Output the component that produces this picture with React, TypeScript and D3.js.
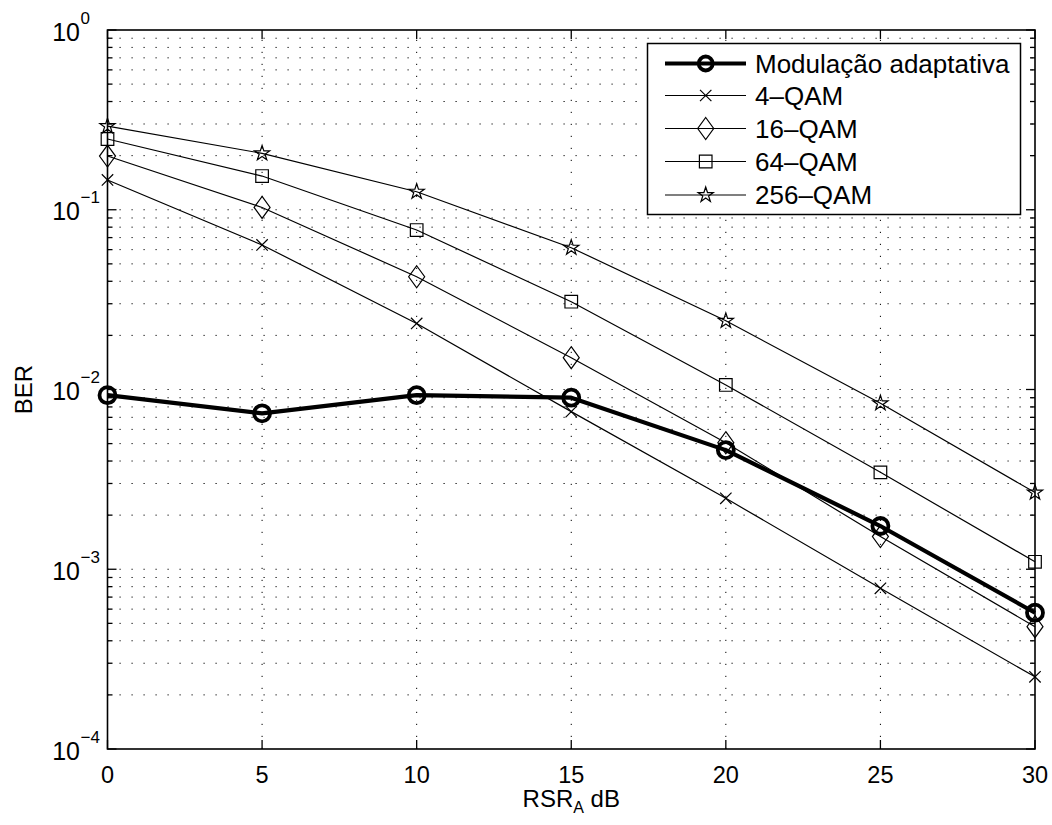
import React from "react";
import * as d3 from "d3";

const snr = [0, 5, 10, 15, 20, 25, 30];
const adaptive = [0.0093, 0.00737, 0.0093, 0.00901, 0.0046, 0.00174, 0.000573];
const qam4 = [0.1465, 0.0637, 0.0233, 0.00753, 0.00248, 0.000783, 0.000252];
const qam16 = [0.199, 0.103, 0.0424, 0.01503, 0.00506, 0.00152, 0.000479];
const qam64 = [0.2475, 0.154, 0.0771, 0.0308, 0.0106, 0.00346, 0.0011];
const qam256 = [0.292, 0.206, 0.126, 0.0615, 0.0241, 0.00838, 0.00267];

const xTicks = [0, 5, 10, 15, 20, 25, 30];
const yDecades = [0, -1, -2, -3, -4];
const seriesNames = ["Modulação adaptativa", "4–QAM", "16–QAM", "64–QAM", "256–QAM"];
const markerKinds = ["circle", "x", "diamond", "square", "star"];

const W = 1052, H = 825;
const L = 107.5, R = 1035, T = 30, B = 749;
const FONT = "'Liberation Sans', Arial, Helvetica, sans-serif";

function markerPath(kind: string, big: boolean): string {
  if (kind === "x") { const s = 5.7; return `M${-s},${-s}L${s},${s}M${-s},${s}L${s},${-s}`; }
  if (kind === "diamond") { const w = 8, h = 11; return `M0,${-h}L${w},0L0,${h}L${-w},0Z`; }
  if (kind === "square") { const s = 6.3; return `M${-s},${-s}H${s}V${s}H${-s}Z`; }
  if (kind === "star") {
    const Ro = 8, Ri = Ro * 0.382;
    let d = "";
    for (let i = 0; i < 10; i++) {
      const r = i % 2 === 0 ? Ro : Ri;
      const a = -Math.PI / 2 + (i * Math.PI) / 5;
      d += (i === 0 ? "M" : "L") + (r * Math.cos(a)).toFixed(2) + "," + (r * Math.sin(a)).toFixed(2);
    }
    return d + "Z";
  }
  const r = big ? 8 : 7;
  return `M${r},0A${r},${r} 0 1,1 ${-r},0A${r},${r} 0 1,1 ${r},0Z`;
}

export default function App() {
  const x = d3.scaleLinear().domain([0, 30]).range([L, R]);
  const y = d3.scaleLog().domain([1e-4, 1]).range([B, T]);
  const line = d3.line<number>().x((_, i) => x(snr[i])).y((v) => y(v));

  const allSeries = [adaptive, qam4, qam16, qam64, qam256];

  const minorVals: number[] = [];
  for (let k = -4; k < 0; k++) for (let m = 2; m <= 9; m++) minorVals.push(m * Math.pow(10, k));
  const majorVals = yDecades.map((e) => Math.pow(10, e));

  const dash = "1.2,10.8";

  const legX = 647.5, legY = 43.5, legW = 373, legH = 171;
  const rowY = [63.5, 95.5, 128.5, 161.5, 195];

  return (
    <svg width={W} height={H} style={{ position: "absolute", left: 0, top: 0, background: "#fff" }} fontFamily={FONT}>
      <rect x={0} y={0} width={W} height={H} fill="#fff" />
      {/* grid */}
      <g stroke="#000" strokeWidth={1} strokeDasharray={dash} fill="none">
        {xTicks.slice(1, -1).map((t) => (
          <line key={"gx" + t} x1={x(t)} x2={x(t)} y1={B} y2={T} />
        ))}
        {[...majorVals.slice(1, -1), ...minorVals].map((v, i) => (
          <line key={"gy" + i} x1={L} x2={R} y1={y(v)} y2={y(v)} />
        ))}
      </g>
      {/* ticks */}
      <g stroke="#000" strokeWidth={1.3}>
        {xTicks.map((t) => (
          <g key={"tx" + t}>
            <line x1={x(t)} x2={x(t)} y1={B} y2={B - 9} />
            <line x1={x(t)} x2={x(t)} y1={T} y2={T + 9} />
          </g>
        ))}
        {majorVals.map((v, i) => (
          <g key={"ty" + i}>
            <line x1={L} x2={L + 9} y1={y(v)} y2={y(v)} />
            <line x1={R} x2={R - 9} y1={y(v)} y2={y(v)} />
          </g>
        ))}
        {minorVals.map((v, i) => (
          <g key={"tm" + i}>
            <line x1={L} x2={L + 5} y1={y(v)} y2={y(v)} />
            <line x1={R} x2={R - 5} y1={y(v)} y2={y(v)} />
          </g>
        ))}
      </g>
      {/* series */}
      {allSeries.map((s, si) => {
        if (si === 0) return null;
        return (
          <g key={"s" + si}>
            <path d={line(s) || ""} fill="none" stroke="#000" strokeWidth={1.2} />
            {s.map((v, i) => (
              <path key={i} d={markerPath(markerKinds[si], false)} transform={`translate(${x(snr[i])},${y(v)})`} fill="none" stroke="#000" strokeWidth={1.2} />
            ))}
          </g>
        );
      })}
      <g>
        <path d={line(adaptive) || ""} fill="none" stroke="#000" strokeWidth={4.2} strokeLinejoin="round" />
        {adaptive.map((v, i) => (
          <path key={i} d={markerPath("circle", true)} transform={`translate(${x(snr[i])},${y(v)})`} fill="none" stroke="#000" strokeWidth={3.8} />
        ))}
      </g>
      {/* axes box */}
      <rect x={L} y={T} width={R - L} height={B - T} fill="none" stroke="#000" strokeWidth={1.6} />
      {/* x tick labels */}
      {xTicks.map((t) => (
        <text key={"lx" + t} x={x(t)} y={783} textAnchor="middle" fontSize={23.5} fill="#000">{t}</text>
      ))}
      {/* y tick labels */}
      {yDecades.map((e) => (
        <g key={"ly" + e}>
          <text x={80} y={y(Math.pow(10, e)) + 10.5} textAnchor="end" fontSize={25} fill="#000">10</text>
          <text x={80.5} y={y(Math.pow(10, e)) - 6.5} textAnchor="start" fontSize={17} fill="#000">{e === 0 ? "0" : "−" + Math.abs(e)}</text>
        </g>
      ))}
      {/* axis labels */}
      <text transform={`translate(32,${(T + B) / 2}) rotate(-90)`} textAnchor="middle" fontSize={24} fill="#000">BER</text>
      <text x={(L + R) / 2} y={807} textAnchor="middle" fontSize={24} fill="#000">
        RSR<tspan fontSize={16} dy={6}>A</tspan><tspan dy={-6}> dB</tspan>
      </text>
      {/* legend */}
      <rect x={legX} y={legY} width={legW} height={legH} fill="#fff" stroke="#000" strokeWidth={1.5} />
      {seriesNames.map((n, i) => (
        <g key={"lg" + i}>
          <line x1={665} x2={746} y1={rowY[i]} y2={rowY[i]} stroke="#000" strokeWidth={i === 0 ? 4.2 : 1.2} />
          <path d={markerPath(markerKinds[i], false)} transform={`translate(705.7,${rowY[i]})`} fill="none" stroke="#000" strokeWidth={i === 0 ? 3.8 : 1.2} />
          <text x={755} y={rowY[i] + 9.3} fontSize={26} fill="#000">{n}</text>
        </g>
      ))}
    </svg>
  );
}
